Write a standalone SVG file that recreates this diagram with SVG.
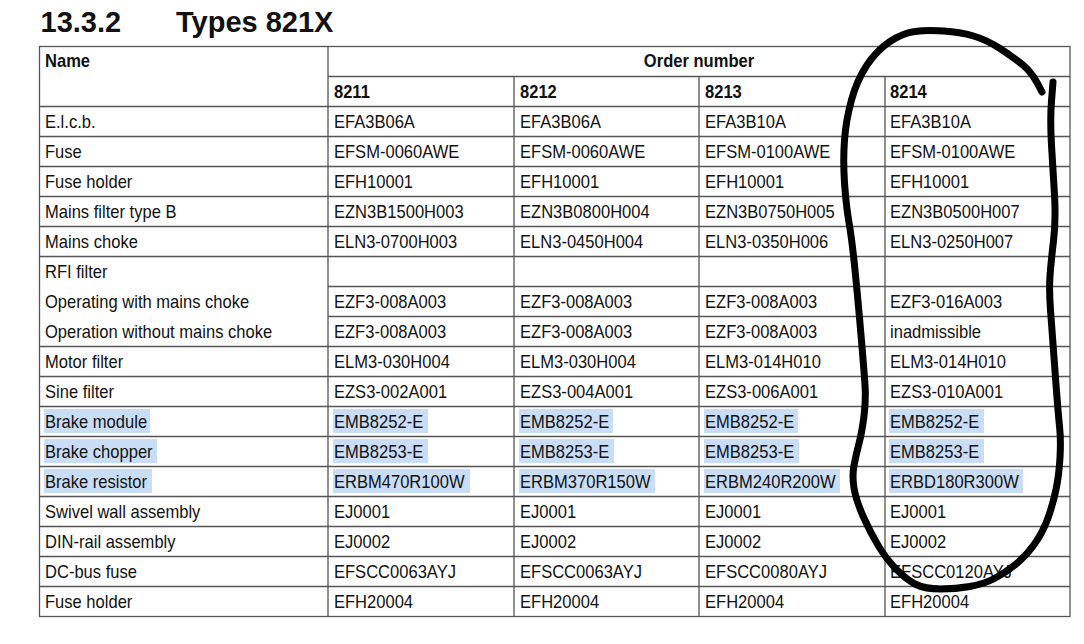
<svg xmlns="http://www.w3.org/2000/svg" width="1084" height="644" viewBox="0 0 1084 644">
<style>
.t{font-family:"Liberation Sans",Arial,sans-serif;font-size:18px;fill:#111}
.b{font-weight:bold}
.title{font-family:"Liberation Sans",Arial,sans-serif;font-size:29px;font-weight:bold;fill:#111}
.ln{stroke:#555;stroke-width:1.3;fill:none}
.hl{fill:#c9ddf6}
.loop{fill:none;stroke:#000;stroke-width:7;stroke-linecap:round;stroke-linejoin:round}
</style>
<rect width="1084" height="644" fill="#fff"/>
<g id="title">
<text class="title" x="40.5" y="32">13.3.2</text>
<text class="title" x="176" y="32">Types 821X</text>
</g>
<g id="highlights">
<rect class="hl" x="44" y="409" width="106" height="24"/>
<rect class="hl" x="333" y="409" width="95" height="24"/>
<rect class="hl" x="519" y="409" width="94" height="24"/>
<rect class="hl" x="704" y="409" width="94" height="24"/>
<rect class="hl" x="889" y="409" width="95" height="24"/>
<rect class="hl" x="44" y="439" width="113" height="24"/>
<rect class="hl" x="333" y="439" width="95" height="24"/>
<rect class="hl" x="519" y="439" width="95" height="24"/>
<rect class="hl" x="704" y="439" width="95" height="24"/>
<rect class="hl" x="889" y="439" width="95" height="24"/>
<rect class="hl" x="44" y="469" width="108" height="24"/>
<rect class="hl" x="333" y="469" width="137" height="24"/>
<rect class="hl" x="519" y="469" width="136" height="24"/>
<rect class="hl" x="704" y="469" width="136" height="24"/>
<rect class="hl" x="889" y="469" width="134" height="24"/>
</g>
<g id="grid">
<rect class="ln" x="39.5" y="46.5" width="1030.5" height="570" stroke="#777"/>
<path class="ln" d="M328 46.5V616.5M514 76.5V616.5M699 76.5V616.5M885 76.5V616.5"/>
<path class="ln" d="M328 76.5H1070M39.5 106.5H1070M39.5 136.5H1070M39.5 166.5H1070M39.5 196.5H1070M39.5 226.5H1070M39.5 256.5H1070M328 286.5H1070M328 316.5H1070M39.5 346.5H1070M39.5 376.5H1070M39.5 406.5H1070M39.5 436.5H1070M39.5 466.5H1070M39.5 496.5H1070M39.5 526.5H1070M39.5 556.5H1070M39.5 586.5H1070"/>
</g>
<g id="texts" transform="scale(0.92,1)">
<g id="header" class="t b">
<text x="48.9" y="67">Name</text>
<text x="759.8" y="67" text-anchor="middle">Order number</text>
<text x="363" y="98">8211</text>
<text x="565.2" y="98">8212</text>
<text x="766.3" y="98">8213</text>
<text x="967.4" y="98">8214</text>
</g>
<g class="t">
<g id="r0"><text x="48.9" y="128">E.l.c.b.</text><text x="363" y="128">EFA3B06A</text><text x="565.2" y="128">EFA3B06A</text><text x="766.3" y="128">EFA3B10A</text><text x="967.4" y="128">EFA3B10A</text></g>
<g id="r1"><text x="48.9" y="158">Fuse</text><text x="363" y="158">EFSM-0060AWE</text><text x="565.2" y="158">EFSM-0060AWE</text><text x="766.3" y="158">EFSM-0100AWE</text><text x="967.4" y="158">EFSM-0100AWE</text></g>
<g id="r2"><text x="48.9" y="188">Fuse holder</text><text x="363" y="188">EFH10001</text><text x="565.2" y="188">EFH10001</text><text x="766.3" y="188">EFH10001</text><text x="967.4" y="188">EFH10001</text></g>
<g id="r3"><text x="48.9" y="218">Mains filter type B</text><text x="363" y="218">EZN3B1500H003</text><text x="565.2" y="218">EZN3B0800H004</text><text x="766.3" y="218">EZN3B0750H005</text><text x="967.4" y="218">EZN3B0500H007</text></g>
<g id="r4"><text x="48.9" y="248">Mains choke</text><text x="363" y="248">ELN3-0700H003</text><text x="565.2" y="248">ELN3-0450H004</text><text x="766.3" y="248">ELN3-0350H006</text><text x="967.4" y="248">ELN3-0250H007</text></g>
<g id="r5"><text x="48.9" y="278">RFI filter</text></g>
<g id="r6"><text x="48.9" y="308">Operating with mains choke</text><text x="363" y="308">EZF3-008A003</text><text x="565.2" y="308">EZF3-008A003</text><text x="766.3" y="308">EZF3-008A003</text><text x="967.4" y="308">EZF3-016A003</text></g>
<g id="r7"><text x="48.9" y="338">Operation without mains choke</text><text x="363" y="338">EZF3-008A003</text><text x="565.2" y="338">EZF3-008A003</text><text x="766.3" y="338">EZF3-008A003</text><text x="967.4" y="338">inadmissible</text></g>
<g id="r8"><text x="48.9" y="368">Motor filter</text><text x="363" y="368">ELM3-030H004</text><text x="565.2" y="368">ELM3-030H004</text><text x="766.3" y="368">ELM3-014H010</text><text x="967.4" y="368">ELM3-014H010</text></g>
<g id="r9"><text x="48.9" y="398">Sine filter</text><text x="363" y="398">EZS3-002A001</text><text x="565.2" y="398">EZS3-004A001</text><text x="766.3" y="398">EZS3-006A001</text><text x="967.4" y="398">EZS3-010A001</text></g>
<g id="r10"><text x="48.9" y="428">Brake module</text><text x="363" y="428">EMB8252-E</text><text x="565.2" y="428">EMB8252-E</text><text x="766.3" y="428">EMB8252-E</text><text x="967.4" y="428">EMB8252-E</text></g>
<g id="r11"><text x="48.9" y="458">Brake chopper</text><text x="363" y="458">EMB8253-E</text><text x="565.2" y="458">EMB8253-E</text><text x="766.3" y="458">EMB8253-E</text><text x="967.4" y="458">EMB8253-E</text></g>
<g id="r12"><text x="48.9" y="488">Brake resistor</text><text x="363" y="488">ERBM470R100W</text><text x="565.2" y="488">ERBM370R150W</text><text x="766.3" y="488">ERBM240R200W</text><text x="967.4" y="488">ERBD180R300W</text></g>
<g id="r13"><text x="48.9" y="518">Swivel wall assembly</text><text x="363" y="518">EJ0001</text><text x="565.2" y="518">EJ0001</text><text x="766.3" y="518">EJ0001</text><text x="967.4" y="518">EJ0001</text></g>
<g id="r14"><text x="48.9" y="548">DIN-rail assembly</text><text x="363" y="548">EJ0002</text><text x="565.2" y="548">EJ0002</text><text x="766.3" y="548">EJ0002</text><text x="967.4" y="548">EJ0002</text></g>
<g id="r15"><text x="48.9" y="578">DC-bus fuse</text><text x="363" y="578">EFSCC0063AYJ</text><text x="565.2" y="578">EFSCC0063AYJ</text><text x="766.3" y="578">EFSCC0080AYJ</text><text x="967.4" y="578">EFSCC0120AYJ</text></g>
<g id="r16"><text x="48.9" y="608">Fuse holder</text><text x="363" y="608">EFH20004</text><text x="565.2" y="608">EFH20004</text><text x="766.3" y="608">EFH20004</text><text x="967.4" y="608">EFH20004</text></g>
</g>
</g>
<g id="annotation">
<path class="loop" d="M1053 82 L1051.5 101 Q1050 120 1051.5 145 Q1053 170 1054.5 195 Q1056 220 1053.5 241 Q1051 262 1050 276 Q1049 290 1050.5 310 Q1052 330 1055 371 Q1058 412 1059.5 426 Q1061 440 1060 457.5 Q1059 475 1056 489.5 Q1053 504 1048 518 Q1043 532 1034.5 544 Q1026 556 1015.5 564.5 Q1005 573 994.5 578.5 Q984 584 970 586.5 Q956 589 940.5 589 Q925 589 916 584.5 Q907 580 897 570 Q887 560 878.5 546 Q870 532 863 516 Q856 500 854 488 Q852 476 854 465.5 Q856 455 859 443.5 Q862 432 864 416 Q866 400 865 385 Q864 370 861 335 Q858 300 855 270 Q852 240 849 222.5 Q846 205 844.5 182.5 Q843 160 844.5 140 Q846 120 851.5 100 Q857 80 867 65 Q877 50 890 41.5 Q903 33 915 31.5 Q927 30 943.5 31 Q960 32 973.5 36 Q987 40 1000 48.5 Q1013 57 1023 65 Q1033 73 1042 92"/>
</g>
</svg>
